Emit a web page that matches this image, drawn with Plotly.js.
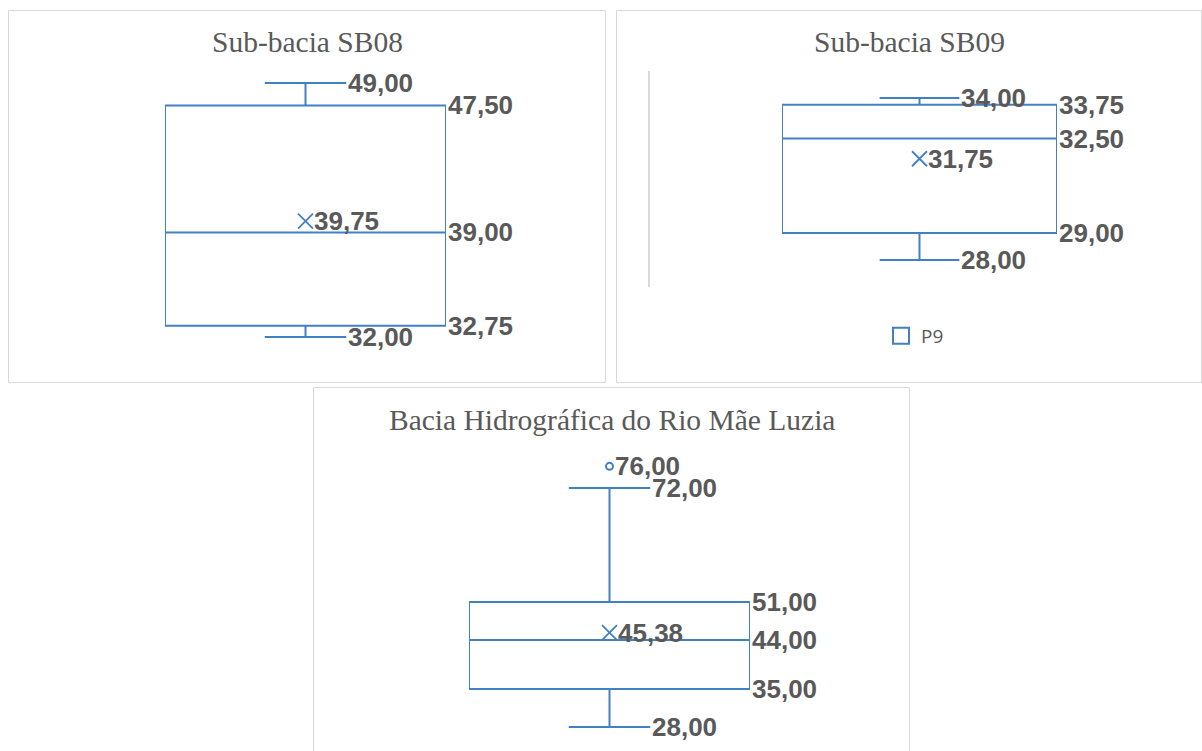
<!DOCTYPE html>
<html>
<head>
<meta charset="utf-8">
<script src="https://cdn.plot.ly/plotly-3.0.1.min.js"></script>
<style>html,body{margin:0;padding:0;background:#fff;}#chart{width:1202px;height:751px;}</style>
</head>
<body>
<div id="chart"></div>
<script>
// ---- data ----
const panelTitles = ['Sub-bacia SB08', 'Sub-bacia SB09', 'Bacia Hidrográfica do Rio Mãe Luzia'];
const seriesNames = ['P8', 'P9', 'Bacia'];
const lowerWhisker = [32.00, 28.00, 28.00];
const q1Values = [32.75, 29.00, 35.00];
const medianValues = [39.00, 32.50, 44.00];
const q3Values = [47.50, 33.75, 51.00];
const upperWhisker = [49.00, 34.00, 72.00];
const meanValues = [39.75, 31.75, 45.38];
const outlierValues = [[], [], [76.00]];
const legendPanel = 1; // only the SB09 panel shows its legend

// ---- style / layout constants ----
const W = 1202, H = 751;
const BLUE = '#4280c4';
const GREY = '#595959';
const WHISK = 0.29;
const px = v => v / W;
const py = v => 1 - v / H;
// pixel frames of each panel: [left, top, right, bottom]
const frames = [[8.5, 10.5, 605.5, 382.5], [616.5, 10.5, 1201.5, 382.5], [313.5, 387.5, 909.5, 752]];
// box horizontal extent (pixels) and plot vertical extent (pixels)
const boxX = [[165, 446], [782, 1057], [469, 750]];
const plotY = [[53.1, 366.9], [71, 287], [444.6, 743.2]];
const yRanges = [[30, 51], [27, 35], [25, 80]];
const titleY = [42, 42, 420];

const fmt = v => v.toFixed(2).replace('.', ',');

const traces = [];
const annotations = [];
const shapes = [];
const layout = {
  width: W, height: H, autosize: false,
  margin: {l: 0, r: 0, t: 0, b: 0},
  paper_bgcolor: '#fff', plot_bgcolor: 'rgba(0,0,0,0)',
  showlegend: true,
  legend: {x: px(881), y: py(336), xanchor: 'left', yanchor: 'middle', itemwidth: 30,
           font: {family: 'Open Sans', size: 19, color: GREY}, bgcolor: 'rgba(0,0,0,0)'},
  annotations: annotations, shapes: shapes
};

for (let i = 0; i < 3; i++) {
  const s = i === 0 ? '' : String(i + 1);
  const xa = 'x' + s, ya = 'y' + s;
  layout['xaxis' + s] = {domain: [px(boxX[i][0]), px(boxX[i][1])], range: [-0.5, 0.5],
    visible: false, fixedrange: true, anchor: ya};
  layout['yaxis' + s] = {domain: [py(plotY[i][1]), py(plotY[i][0])], range: yRanges[i],
    showgrid: false, zeroline: false, showticklabels: false, ticks: '',
    showline: i === 1, linecolor: '#d9d9d9', linewidth: 2,
    anchor: i === 1 ? 'free' : xa, position: i === 1 ? px(649) : 0, fixedrange: true};

  traces.push({
    type: 'box', name: seriesNames[i], x: [0], xaxis: xa, yaxis: ya,
    q1: [q1Values[i]], median: [medianValues[i]], q3: [q3Values[i]],
    lowerfence: [lowerWhisker[i]], upperfence: [upperWhisker[i]],
    width: 1, whiskerwidth: WHISK, boxpoints: false, boxmean: false,
    line: {color: BLUE, width: 2}, fillcolor: '#ffffff',
    showlegend: false, hoverinfo: 'skip'
  });
  traces.push({
    type: 'scatter', mode: 'markers', x: [0], y: [meanValues[i]], xaxis: xa, yaxis: ya,
    marker: {symbol: 'x-thin-open', size: 15, color: BLUE, line: {color: BLUE, width: 1.8}},
    showlegend: false, hoverinfo: 'skip'
  });
  if (outlierValues[i].length) {
    traces.push({
      type: 'scatter', mode: 'markers', x: outlierValues[i].map(() => 0), y: outlierValues[i],
      xaxis: xa, yaxis: ya,
      marker: {symbol: 'circle-open', size: 7, color: BLUE, line: {color: BLUE, width: 2}},
      showlegend: false, hoverinfo: 'skip'
    });
  }
  if (i === legendPanel) {
    // legend entry for the series (square outline like the source legend)
    traces.push({
      type: 'scatter', mode: 'markers', name: seriesNames[i], x: [null], y: [null],
      xaxis: xa, yaxis: ya,
      marker: {symbol: 'square', size: 16, color: '#ffffff', line: {color: BLUE, width: 2}},
      showlegend: true, hoverinfo: 'skip'
    });
  }

  const lab = (x, y, xshift) => annotations.push({
    xref: xa, yref: ya, x: x, y: y, text: fmt(y), showarrow: false,
    xanchor: 'left', yanchor: 'middle', xshift: xshift || 0,
    font: {family: 'Liberation Sans', size: 26, color: GREY, weight: 'bold'}
  });
  lab(WHISK / 2, upperWhisker[i], 0);
  lab(WHISK / 2, lowerWhisker[i], 0);
  lab(0.5, q3Values[i], 0);
  lab(0.5, medianValues[i], 0);
  lab(0.5, q1Values[i], 0);
  lab(0, meanValues[i], 6);
  outlierValues[i].forEach(v => lab(0, v, 3));

  annotations.push({
    xref: 'paper', yref: 'paper', x: px((frames[i][0] + frames[i][2]) / 2), y: py(titleY[i]),
    text: panelTitles[i], showarrow: false, xanchor: 'center', yanchor: 'middle',
    font: {family: 'Liberation Serif', size: 29.5, color: GREY}
  });
  shapes.push({type: 'rect', xref: 'paper', yref: 'paper',
    x0: px(frames[i][0]), x1: px(frames[i][2]), y0: py(frames[i][3]), y1: py(frames[i][1]),
    line: {color: '#d9d9d9', width: 1}, fillcolor: 'rgba(0,0,0,0)', layer: 'below'});
}

Plotly.newPlot('chart', traces, layout, {displayModeBar: false, staticPlot: true});
</script>
</body>
</html>
